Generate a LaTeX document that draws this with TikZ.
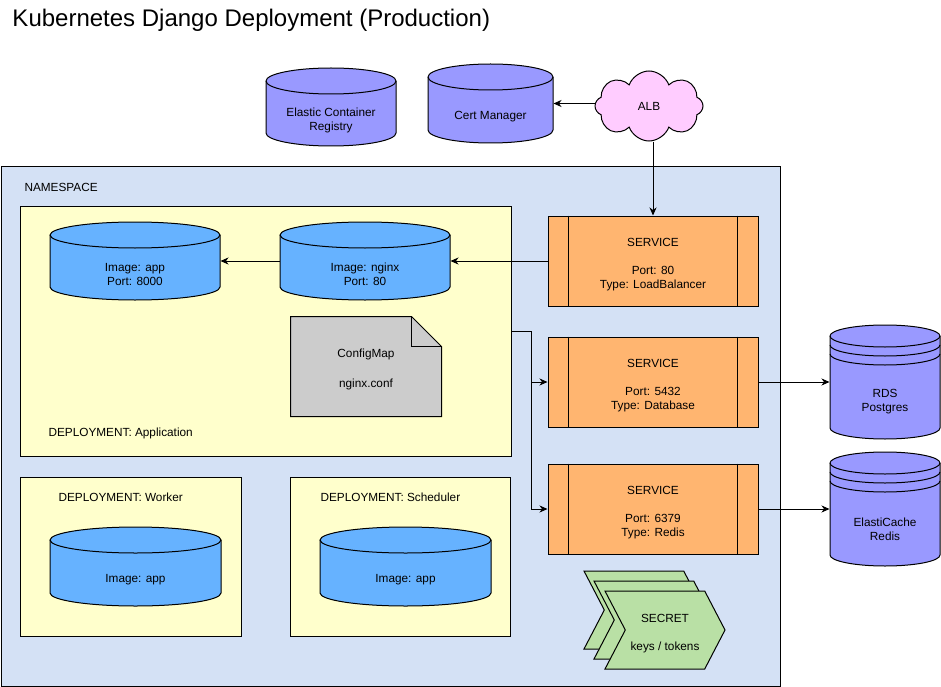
\documentclass[tikz,border=0pt]{standalone}
\usepackage{fontspec}
\setmainfont{Liberation Sans}
\usetikzlibrary{arrows.meta,shapes.symbols}

\definecolor{nsblue}{HTML}{D4E1F5}
\definecolor{deployyellow}{HTML}{FFFFCC}
\definecolor{podblue}{HTML}{66B2FF}
\definecolor{awspurple}{HTML}{9999FF}
\definecolor{svcorange}{HTML}{FFB570}
\definecolor{cfggray}{HTML}{CCCCCC}
\definecolor{albpink}{HTML}{FFCCFF}
\definecolor{secretgreen}{HTML}{B9E0A5}

% cylinder: name, left, top, right, bottom, fill, text
\newcommand{\drawcylinder}[7]{%
  \filldraw[fill=#6] (#2,-#3-13) -- (#2,-#5+13)
    arc[start angle=180, end angle=360, x radius={(#4-#2)/2}, y radius=13]
    -- (#4,-#3-13)
    arc[start angle=0, end angle=180, x radius={(#4-#2)/2}, y radius=13] -- cycle;
  \draw (#2,-#3-13) arc[start angle=180, end angle=360, x radius={(#4-#2)/2}, y radius=13];
  \node[minimum width={#4-#2}, minimum height={#5-#3}, inner sep=0pt]
    (#1) at ({(#2+#4)/2},{-(#3+#5)/2}) {};
  \node[align=center] (#1-text) at ({(#2+#4)/2},{-(#3+26+#5)/2}) {#7};
}
% data store: same, with two extra rims
\newcommand{\drawstore}[7]{%
  \filldraw[fill=#6] (#2,-#3-11) -- (#2,-#5+11)
    arc[start angle=180, end angle=360, x radius={(#4-#2)/2}, y radius=11]
    -- (#4,-#3-11)
    arc[start angle=0, end angle=180, x radius={(#4-#2)/2}, y radius=11] -- cycle;
  \foreach \d in {11,20,29}
    \draw (#2,-#3-\d) arc[start angle=180, end angle=360, x radius={(#4-#2)/2}, y radius=11];
  \node[minimum width={#4-#2}, minimum height={#5-#3}, inner sep=0pt]
    (#1) at ({(#2+#4)/2},{-(#3+#5)/2}) {};
  \node[align=center] (#1-text) at ({(#2+#4)/2},{-(#3+40+#5)/2}) {#7};
}
% first line pushed down a little
\newcommand{\firstline}{\rule{0pt}{15pt}}

\begin{document}
\begin{tikzpicture}[
    x=1pt, y=1pt,
    line width=1pt,
    font=\fontsize{11.8}{14}\selectfont,
    >={Stealth[length=8pt,width=7pt,inset=2.5pt]},
    box/.style={draw, inner sep=0pt},
    service/.style={box, fill=svcorange, align=center, minimum width=210, minimum height=90},
    secret/.style={draw, fill=secretgreen, signal, signal from=west, signal to=east,
      signal pointer angle=125, align=center, minimum width=120, minimum height=78},
    tag/.style={anchor=west, inner sep=0pt},
  ]
  \useasboundingbox (0,0) rectangle (941,-687);

  \node[anchor=base west, inner sep=0pt, font=\fontsize{24}{28}\selectfont]
    (title) at (12,-27) {Kubernetes Django Deployment (Production)};

  % Containers
  \node[box, fill=nsblue, minimum width=779.5, minimum height=520, anchor=north west] (ns) at (0.5,-166) {};
  \node[tag] (nstag) at (24,-187) {NAMESPACE};
  \node[box, fill=deployyellow, minimum width=491, minimum height=250, anchor=north west] (depapp) at (20,-206) {};
  \node[tag] (depapptag) at (48,-433) {DEPLOYMENT: Application};
  \node[box, fill=deployyellow, minimum width=221, minimum height=159, anchor=north west] (depworker) at (20,-477) {};
  \node[tag] (depworkertag) at (58,-497) {DEPLOYMENT: Worker};
  \node[box, fill=deployyellow, minimum width=220, minimum height=159, anchor=north west] (depsched) at (290,-477) {};
  \node[tag] (depschedtag) at (320,-497) {DEPLOYMENT: Scheduler};

  % Cylinders
  \drawcylinder{ecr}{266}{68}{396}{146}{awspurple}{Elastic Container\\Registry}
  \drawcylinder{cert}{428}{64}{553}{143}{awspurple}{Cert Manager}
  \drawcylinder{app}{50}{222}{220}{300}{podblue}{Image: app\\Port: 8000}
  \drawcylinder{nginx}{280}{222}{450}{300}{podblue}{Image: nginx\\Port: 80}
  \drawcylinder{worker}{50}{527}{221}{606}{podblue}{Image: app}
  \drawcylinder{sched}{320}{527}{491}{606}{podblue}{Image: app}
  \drawstore{rds}{830}{325}{940}{439}{awspurple}{RDS\\Postgres}
  \drawstore{redis}{830}{452}{940}{566}{awspurple}{ElastiCache\\Redis}

  \node[cloud, draw, fill=albpink, cloud puffs=8, cloud puff arc=140, cloud ignores aspect,
    minimum width=108, minimum height=70] (alb) at (649,-106) {ALB};

  % Services
  \node[service] (svc1) at (653,-261) {\firstline SERVICE\\[14pt]Port: 80\\Type: LoadBalancer};
  \node[service] (svc2) at (653,-382) {\firstline SERVICE\\[14pt]Port: 5432\\Type: Database};
  \node[service] (svc3) at (653,-509) {\firstline SERVICE\\[14pt]Port: 6379\\Type: Redis};
  \foreach \s in {svc1,svc2,svc3} {
    \draw ([xshift=21pt]\s.north west) -- ([xshift=21pt]\s.south west);
    \draw ([xshift=-21pt]\s.north east) -- ([xshift=-21pt]\s.south east);
  }

  % ConfigMap
  \node[minimum width=150, minimum height=99, inner sep=0pt] (cfg) at (366,-366.5) {};
  \filldraw[fill=cfggray] (cfg.north west) -- ([xshift=-30pt]cfg.north east)
    -- ([yshift=-30pt]cfg.north east) -- (cfg.south east) -- (cfg.south west) -- cycle;
  \draw ([xshift=-30pt]cfg.north east) |- ([yshift=-30pt]cfg.north east);
  \node[align=center] (cfgtext) at (366,-369) {ConfigMap\\[16pt]nginx.conf};

  % Secrets
  \node[secret] (sec1) at (644,-610) {};
  \node[secret] (sec2) at (654,-620) {};
  \node[secret] (sec3) at (665,-630) {\firstline SECRET\\[14pt]keys / tokens};

  % Connectors
  \draw[->] (alb.west |- cert.east) -- (cert.east);
  \draw[->] (alb.south -| svc1.north) -- (svc1.north);
  \draw[->] (svc1.west) -- (nginx.east);
  \draw[->] (nginx.west) -- (app.east);
  \coordinate (split) at (531,-331);
  \draw[->] (depapp.east |- split) -- (split) |- (svc2.west);
  \draw[->] (split) |- (svc3.west);
  \draw[->] (svc2.east) -- (rds.west);
  \draw[->] (svc3.east) -- (redis.west);
\end{tikzpicture}
\end{document}
